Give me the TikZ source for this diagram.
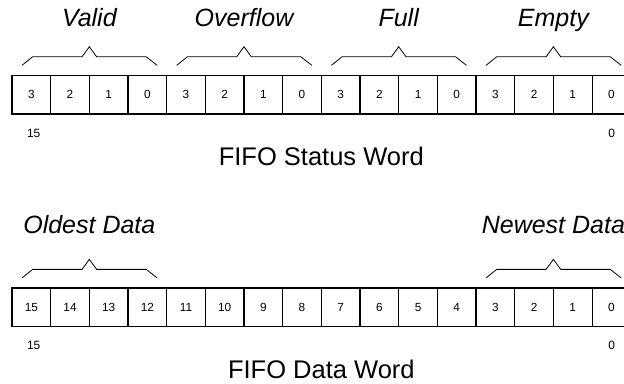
\documentclass[tikz,border=0pt]{standalone}
\usepackage{fontspec}
\setmainfont{Liberation Sans}
\usetikzlibrary{calc}

% brace over a group of cells: first cell, last cell
\newcommand\fieldbrace[2]{%
  \coordinate (bl) at ($(#1.north west)+(10,-10)$);
  \coordinate (br) at ($(#2.north east)+(-9.5,-10)$);
  \coordinate (bm) at ($(#1.north west)!0.5!(#2.north east)+(0,-28.6)$);
  \draw[brace] (bl) -- ++(10.7,-8.6) -- ($(bm)+(-7.3,10)$) -- (bm)
    -- ($(bm)+(7.3,10)$) -- ($(br)+(-11,-8.6)$) -- (br);
}

\begin{document}
\begin{tikzpicture}[x=1pt,y=-1pt,
  cell/.style={draw, line width=1.1pt, outer sep=0pt, inner sep=0pt,
    minimum width=38.67pt, minimum height=38.67pt,
    font=\fontsize{11.8}{12}\selectfont},
  brace/.style={line width=0.8pt, line join=miter},
  fieldlabel/.style={anchor=base, font=\fontsize{25}{26}\selectfont\itshape},
  wordcaption/.style={anchor=base, font=\fontsize{25.5}{28}\selectfont},
  bitnum/.style={font=\fontsize{12}{13}\selectfont}]

\useasboundingbox (0,0) rectangle (624,383);
\clip (0,0) rectangle (624,383);

% status word: four 4-bit fields
\foreach \i/\v in {0/3,1/2,2/1,3/0,4/3,5/2,6/1,7/0,8/3,9/2,10/1,11/0,12/3,13/2,14/1,15/0}
  \node[cell] (s\i) at ({12+38.67*(\i+0.5)},94.7) {\v};

\fieldbrace{s0}{s3}
\fieldbrace{s4}{s7}
\fieldbrace{s8}{s11}
\fieldbrace{s12}{s15}

\node[fieldlabel] (valid) at ($(s1.center)!0.5!(s2.center)+(0,-68.7)$) {Valid};
\node[fieldlabel] (ovf) at ($(s5.center)!0.5!(s6.center)+(0,-68.7)$) {Overflow};
\node[fieldlabel] (full) at ($(s9.center)!0.5!(s10.center)+(0,-68.7)$) {Full};
\node[fieldlabel] (empty) at ($(s13.center)!0.5!(s14.center)+(0,-68.7)$) {Empty};

\node[bitnum] (smsb) at (33.7,133) {15};
\node[bitnum] (slsb) at (611.7,133) {0};
\node[wordcaption] (stitle) at (321.3,165) {FIFO Status Word};

% data word: 16 bits
\foreach \i in {0,...,15}{
  \pgfmathtruncatemacro\bit{15-\i}
  \node[cell] (d\i) at ({12+38.67*(\i+0.5)},307.3) {\bit};
}

\fieldbrace{d0}{d3}
\fieldbrace{d12}{d15}

\node[fieldlabel] (oldest) at ($(d1.center)!0.5!(d2.center)+(0,-74)$) {Oldest Data};
\node[fieldlabel] (newest) at ($(d13.center)!0.5!(d14.center)+(0,-74)$) {Newest Data};

\node[bitnum] (dmsb) at (33.7,345) {15};
\node[bitnum] (dlsb) at (611.7,345) {0};
\node[wordcaption] (dtitle) at (321.3,378) {FIFO Data Word};
\end{tikzpicture}
\end{document}
